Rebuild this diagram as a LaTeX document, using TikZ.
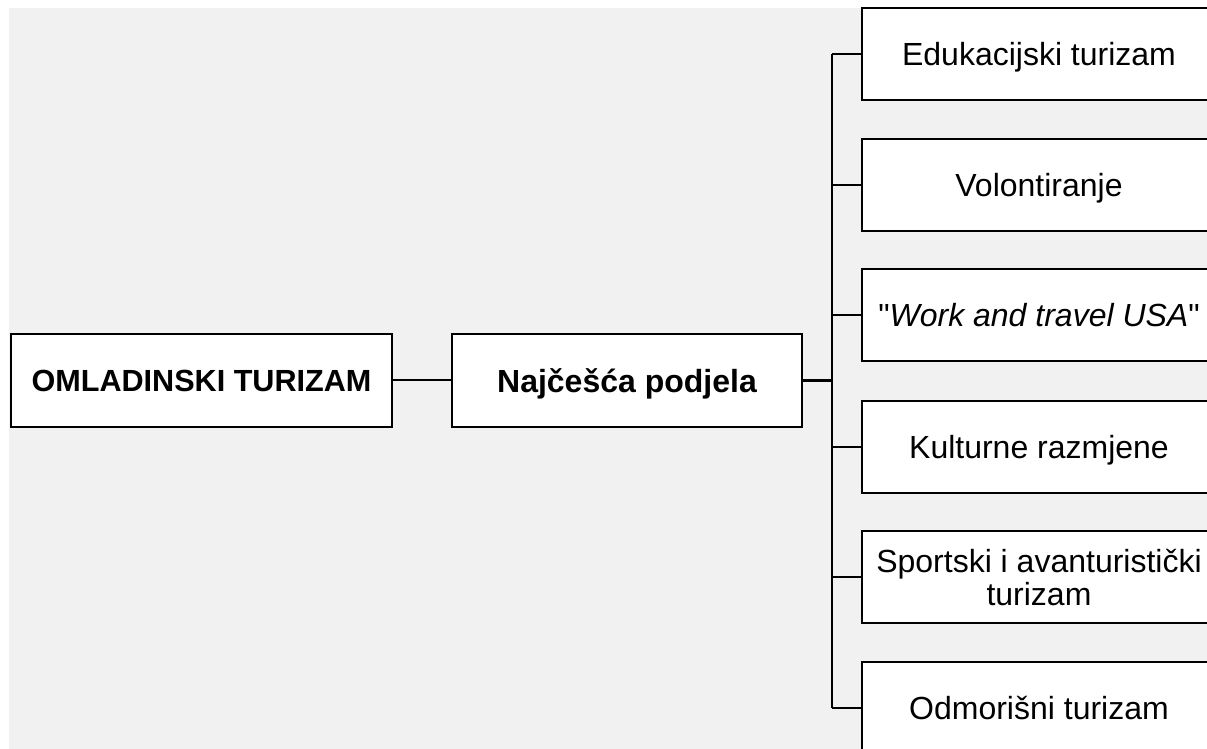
\documentclass[tikz,border=0pt]{standalone}
\usepackage{fontspec}
\setmainfont{Liberation Sans}
\usepackage{tikz}
\usetikzlibrary{positioning, calc}
\definecolor{PanelGray}{RGB}{241,241,241}
\tikzstyle{box} = [draw, rectangle, fill=white, line width=1pt, inner sep=2pt, text depth=0pt, font=\fontsize{16}{16.5}\selectfont]
\tikzstyle{rootbox} = [box, minimum width=190.5pt, minimum height=46.5pt, font=\fontsize{16}{17}\selectfont\bfseries]
\tikzstyle{leafbox} = [box, minimum width=177pt, minimum height=46pt, align=center]
\tikzstyle{link} = [line width=1pt, black]

\begin{document}
\begin{tikzpicture}[x=0.5pt, y=-0.5pt]
    % Frame and grey panel
    \useasboundingbox (0,0) rectangle (1207,749);
    \clip (0,0) rectangle (1207,749);
    \fill[white] (0,0) rectangle (1207,749);
    \fill[PanelGray] (9,8) rectangle (1207,749);

    \node[rootbox, font=\fontsize{15.3}{17}\selectfont\bfseries] (root) at (201.5,380.5) {OMLADINSKI TURIZAM};
    \node[rootbox, minimum width=175pt] (split) at (627,380.5) {Najčešća podjela};

    \node[leafbox] (edu) at (1039,54) {Edukacijski turizam};
    \node[leafbox] (vol) at (1039,185) {Volontiranje};
    \node[leafbox] (wat) at (1039,315) {\textquotedbl\textit{Work and travel USA}\textquotedbl};
    \node[leafbox] (kul) at (1039,446.5) {Kulturne razmjene};
    \node[leafbox] (spo) at (1039,577) {Sportski i avanturistički\\turizam};
    \node[leafbox] (odm) at (1039,707.5) {Odmorišni turizam};

    \coordinate (hub) at (832,380.5);

    \draw[link] (root) -- (split);
    \draw[link, line width=1.5pt] (split) -- (hub);
    \draw[link] (edu.west -| hub) -- (odm.west -| hub);
    \foreach \leaf in {edu, vol, wat, kul, spo, odm}
        \draw[link] (\leaf.west) -- (\leaf.west -| hub);
\end{tikzpicture}
\end{document}
